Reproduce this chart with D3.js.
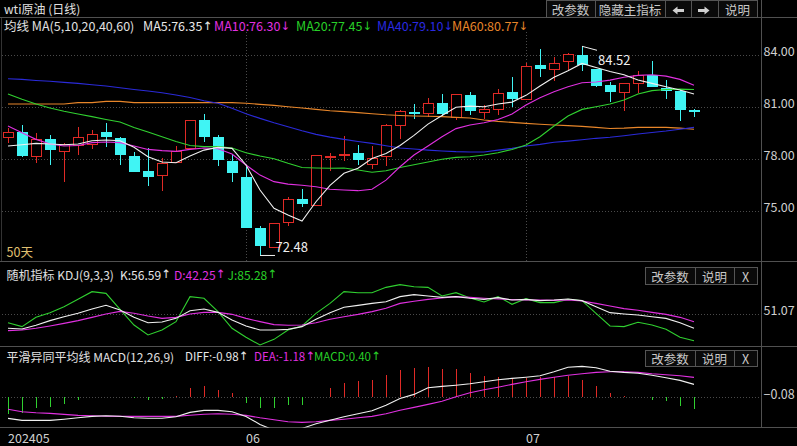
<!DOCTYPE html>
<html><head><meta charset="utf-8">
<script src="https://cdn.jsdelivr.net/npm/d3@7"></script>
<style>
html,body{margin:0;padding:0;background:#000;overflow:hidden}
svg{display:block}
text{font-family:"Noto Sans CJK SC","Microsoft YaHei",sans-serif;font-size:12px}
tspan.arr{font-family:"DejaVu Sans",sans-serif}
</style>
</head><body>
<svg id="c" width="797" height="446"></svg>
<script>
// ---------- data ----------
const open  = [79.25,79.57,78.23,79.15,78.46,78.84,78.92,79.56,79.23,78.19,77.33,77.07,77.88,78.61,80.27,79.27,77.90,76.98,74.02,72.96,74.34,75.69,75.38,78.11,78.25,78.34,77.71,78.15,79.96,80.73,80.65,81.27,80.46,81.73,80.77,80.88,81.88,81.46,83.42,83.23,83.65,84.03,83.19,82.27,81.84,82.38,82.88,82.11,81.96,80.84];
const high  = [79.79,79.98,79.54,79.38,78.92,79.85,79.69,80.11,79.27,78.42,78.63,78.06,78.77,80.27,80.61,79.38,78.25,77.57,74.17,74.34,75.84,76.27,78.27,78.35,79.34,78.82,78.77,80.04,80.84,81.19,81.54,81.77,81.79,81.88,81.11,82.04,82.77,83.57,84.38,83.92,84.15,84.52,83.23,82.46,82.40,83.11,83.69,82.57,81.98,80.92];
const low   = [78.96,78.15,77.81,77.67,76.71,78.23,78.61,78.73,77.69,77.27,76.48,76.19,77.86,78.59,79.02,77.61,76.71,74.03,72.48,72.94,74.15,75.27,75.36,77.32,77.92,77.67,77.46,77.61,79.19,80.35,80.42,80.42,80.27,80.57,80.30,80.54,81.04,81.42,82.77,82.50,83.15,83.07,82.19,81.30,80.80,81.80,82.15,81.50,80.23,80.46];
const close = [79.55,78.19,79.19,78.50,78.88,79.31,79.48,79.25,78.27,77.29,77.00,77.77,78.50,80.25,79.31,77.92,77.23,74.05,72.96,74.32,75.69,75.38,78.25,78.19,78.29,77.92,78.06,79.96,80.77,80.69,81.23,80.65,81.77,80.80,80.92,81.81,81.50,83.38,83.19,83.57,84.07,83.46,82.23,81.84,82.38,82.84,82.19,81.96,80.84,80.77];

const ma5  = [78.77,78.84,78.92,78.88,78.84,78.88,79.07,79.11,79.07,78.69,78.15,77.84,77.80,78.19,78.53,78.69,78.63,77.67,76.23,75.17,74.78,74.44,75.55,76.50,77.19,77.48,78.05,78.34,78.80,79.38,80.03,80.53,81.00,81.07,81.03,81.19,81.30,81.69,82.23,82.73,83.11,83.53,83.30,83.07,82.88,82.57,82.38,82.19,82.00,81.77];
const ma10 = [79.92,79.53,79.15,78.88,78.77,78.80,78.96,79.00,78.96,78.77,78.57,78.50,78.46,78.57,78.65,78.61,78.30,77.67,77.09,76.71,76.57,76.50,76.42,76.27,76.23,76.19,76.27,76.80,77.57,78.25,78.77,79.30,79.77,79.98,80.11,80.30,80.61,81.13,81.55,81.90,82.19,82.42,82.46,82.57,82.73,82.84,82.88,82.80,82.61,82.27];
const ma20 = [81.77,81.46,81.19,80.96,80.77,80.61,80.46,80.30,80.15,79.84,79.57,79.30,79.03,78.80,78.73,78.73,78.65,78.38,78.19,78.03,77.77,77.53,77.50,77.48,77.50,77.38,77.25,77.34,77.53,77.69,77.84,78.00,78.11,78.15,78.25,78.38,78.57,78.82,79.30,79.92,80.50,80.88,81.03,81.19,81.42,81.77,81.96,82.03,82.05,82.03];
const ma40 = [82.65,82.61,82.55,82.50,82.44,82.38,82.30,82.23,82.13,82.03,81.94,81.84,81.71,81.57,81.38,81.23,80.94,80.63,80.36,80.11,79.88,79.65,79.44,79.28,79.15,79.03,78.92,78.78,78.65,78.59,78.53,78.48,78.44,78.42,78.42,78.53,78.63,78.77,78.86,78.98,79.05,79.13,79.21,79.27,79.36,79.46,79.55,79.63,79.73,79.84];
const ma60 = [81.19,81.19,81.19,81.19,81.19,81.27,81.27,81.34,81.34,81.27,81.27,81.27,81.27,81.27,81.27,81.27,81.27,81.23,81.17,81.11,81.03,80.96,80.88,80.80,80.75,80.69,80.63,80.57,80.53,80.50,80.48,80.46,80.42,80.38,80.27,80.19,80.13,80.07,80.02,79.98,79.94,79.90,79.84,79.78,79.80,79.84,79.84,79.84,79.80,79.73];

const kdjK = [27.8,26.7,32.8,40.6,47.2,52.8,60.0,66.1,58.3,46.1,37.2,38.3,44.4,57.2,60.0,54.4,41.7,31.7,25.0,25.0,26.1,30.6,42.8,53.9,62.8,66.1,69.4,72.2,80.6,83.9,81.7,79.4,80.6,77.8,76.1,78.9,75.0,76.1,73.9,75.0,76.7,73.9,63.9,53.9,51.7,50.0,47.2,44.4,37.2,27.8];
const kdjD = [23.9,25.0,27.8,31.7,36.1,40.6,46.1,51.7,56.1,52.8,48.3,44.4,46.1,51.7,54.4,54.4,51.1,44.4,38.9,33.9,32.8,33.3,37.2,42.8,47.2,51.1,55.6,61.1,69.4,72.8,76.1,78.3,80.6,79.4,77.8,76.7,75.6,75.0,75.0,74.4,75.0,73.3,69.4,65.0,60.6,57.8,54.4,51.1,46.1,38.9];
const kdjJ = [37.2,30.6,46.1,53.9,63.9,76.1,88.9,86.1,59.4,33.3,16.7,25.0,38.9,80.6,77.8,55.6,27.8,12.8,0.0,9.4,25.0,31.7,52.8,69.4,88.9,87.2,87.2,96.1,100.6,97.2,96.1,81.7,87.2,78.3,71.7,80.6,67.8,77.2,70.6,70.6,76.1,73.9,52.8,31.7,30.6,37.8,33.3,26.1,12.8,7.2];

const diff = [-1.08,-1.18,-1.18,-1.18,-1.12,-1.05,-0.98,-0.95,-0.97,-1.05,-1.07,-1.07,-1.00,-0.78,-0.68,-0.68,-0.75,-0.98,-1.38,-1.67,-1.75,-1.58,-1.35,-1.17,-1.00,-0.85,-0.70,-0.42,-0.08,0.12,0.45,0.52,0.58,0.65,0.75,0.85,0.92,0.98,1.05,1.25,1.48,1.52,1.45,1.28,1.22,1.18,1.08,0.95,0.82,0.62];
const dea  = [-0.62,-0.75,-0.80,-0.83,-0.88,-0.93,-0.95,-0.97,-0.98,-0.98,-0.98,-0.98,-0.98,-0.92,-0.87,-0.85,-0.87,-0.93,-1.05,-1.15,-1.25,-1.28,-1.25,-1.18,-1.12,-1.05,-0.98,-0.85,-0.67,-0.53,-0.38,-0.22,0.00,0.20,0.35,0.48,0.62,0.75,0.87,0.98,1.08,1.15,1.22,1.25,1.25,1.22,1.15,1.10,1.05,0.97];
const macd = [-0.88,-0.83,-0.58,-0.52,-0.35,-0.15,-0.03,-0.02,-0.02,-0.08,-0.15,-0.12,0.03,0.42,0.52,0.35,0.20,-0.30,-0.58,-0.58,-0.42,-0.42,-0.03,0.45,0.68,0.78,0.85,1.08,1.33,1.45,1.48,1.38,1.38,1.18,1.05,0.98,0.92,0.92,0.98,0.98,1.02,0.82,0.52,0.18,0.04,-0.02,-0.15,-0.22,-0.45,-0.62];

const priceTicks = [75, 78, 81, 84];
const kdjTicks = [51.07];
const macdTicks = [-0.08];
const dateLabels = ["202405", "06", "07"];
const dateIdx = [0, 17, 37];
const maNames = ["MA5", "MA10", "MA20", "MA40", "MA60"];
const maLegendVals = ["76.35", "76.30", "77.45", "79.10", "80.77"];
const maLegendDir = ["↑", "↓", "↓", "↓", "↓"];
const highLabel = "84.52", lowLabel = "72.48";

// ---------- styles ----------
const C = {red:"#e02a26", cyan:"#40f4f4", white:"#f0f0f0", mag:"#e030e0", green:"#30d030", blue:"#2a2ad8", orange:"#e8862a",
           grid:"#4a4a4a", border:"#505050", text:"#d0d0d0"};
const maColors = [C.white, C.mag, C.green, C.blue, C.orange];
const maTextColors = ["#e8e8e8", "#e030e0", "#28d028", "#2a2ae0", "#e8862a"];

const svg = d3.select("#c");
const W = 797, RX = 761.5, LX = 2;
const idx = d3.range(open.length);
const x = d3.scaleLinear().domain([0, 49]).range([8, 694]);
const yP = d3.scaleLinear().domain([75, 84]).range([211.3, 55.3]);
const yK = d3.scaleLinear().domain([0, 100]).range([345, 285]);
const yM = d3.scaleLinear().domain([0, 1]).range([396.8, 376.8]);

const defs = svg.append("defs");
function clip(id, y0, y1){ defs.append("clipPath").attr("id", id).append("rect").attr("x", LX).attr("y", y0).attr("width", RX-LX).attr("height", y1-y0); }
clip("cMain", 30, 261); clip("cKdj", 262, 346); clip("cMacd", 347, 427.5);

// ---------- frames ----------
const frame = svg.append("g").attr("shape-rendering", "crispEdges");
[17.5, 261.5, 346.5, 427.5].forEach(y => frame.append("line").attr("x1", 0).attr("x2", W).attr("y1", y).attr("y2", y).attr("stroke", C.border));
frame.append("line").attr("x1", RX).attr("x2", RX).attr("y1", 0).attr("y2", 428).attr("stroke", C.border);
frame.append("line").attr("x1", 1.5).attr("x2", 1.5).attr("y1", 18).attr("y2", 261).attr("stroke", "#333");

// grids
const grid = svg.append("g").attr("shape-rendering", "crispEdges").attr("stroke", C.grid).attr("stroke-dasharray", "1,2");
grid.selectAll(".hg").data(priceTicks).join("line").attr("x1", LX).attr("x2", RX)
  .attr("y1", d => Math.round(yP(d)) + 0.5).attr("y2", d => Math.round(yP(d)) + 0.5);
grid.selectAll(".vg").data(dateIdx.slice(1)).join("line").attr("y1", 32).attr("y2", 261)
  .attr("x1", d => Math.round(x(d)) + 0.5).attr("x2", d => Math.round(x(d)) + 0.5);
grid.append("g").selectAll("line").data(kdjTicks).join("line").attr("x1", LX).attr("x2", RX)
  .attr("y1", d => Math.round(yK(d)) + 0.5).attr("y2", d => Math.round(yK(d)) + 0.5);
grid.append("g").selectAll("line").data([0]).join("line").attr("x1", LX).attr("x2", RX)
  .attr("y1", d => Math.round(yM(d)) + 0.5).attr("y2", d => Math.round(yM(d)) + 0.5);

// axes labels (right)
function rightAxis(scale, ticks, fmt){
  const g = svg.append("g").attr("transform", `translate(${RX},0)`)
    .call(d3.axisRight(scale).tickValues(ticks).tickFormat(fmt).tickSize(0).tickPadding(2));
  g.select(".domain").remove();
  g.selectAll("text").attr("fill", C.text).attr("dy", "0").style("font-size", "12.5px")
    .style("font-family", "'Noto Sans CJK SC',sans-serif");
}
rightAxis(yP, priceTicks, d3.format(".2f"));
rightAxis(yK, kdjTicks, d3.format(".2f"));
rightAxis(yM, macdTicks, d3.format(".2f"));

// date labels
svg.append("g").selectAll("text").data(dateIdx).join("text")
  .attr("x", d => x(d)).attr("y", 437.5).attr("dominant-baseline", "central")
  .attr("fill", C.text).style("font-size", "12.5px").text((d, i) => dateLabels[i]);

// ---------- candles ----------
const cg = svg.append("g").attr("clip-path", "url(#cMain)").attr("shape-rendering", "crispEdges");
idx.forEach(i => {
  const cx = Math.round(x(i)) + 0.5;
  const up = close[i] >= open[i];
  const yo = yP(open[i]), yc = yP(close[i]), yh = yP(high[i]), yl = yP(low[i]);
  const top = Math.min(yo, yc), bot = Math.max(yo, yc);
  const col = up ? C.red : C.cyan;
  if (up) {
    cg.append("line").attr("x1", cx).attr("x2", cx).attr("y1", yh).attr("y2", top).attr("stroke", col);
    cg.append("line").attr("x1", cx).attr("x2", cx).attr("y1", bot).attr("y2", yl).attr("stroke", col);
    cg.append("rect").attr("x", cx - 5).attr("y", Math.round(top) + 0.5).attr("width", 10)
      .attr("height", Math.max(1, Math.round(bot - top))).attr("fill", "#000").attr("stroke", col);
  } else {
    cg.append("line").attr("x1", cx).attr("x2", cx).attr("y1", yh).attr("y2", yl).attr("stroke", col);
    cg.append("rect").attr("x", cx - 5.5).attr("y", Math.round(top)).attr("width", 11)
      .attr("height", Math.max(1.5, Math.round(bot - top))).attr("fill", col);
  }
});

// ---------- MA lines ----------
const lg = svg.append("g").attr("clip-path", "url(#cMain)").attr("fill", "none").attr("stroke-width", 1.1);
const maSeries = [ma5, ma10, ma20, ma40, ma60];
[4, 3, 2, 1, 0].forEach(k => {
  lg.append("path").datum(maSeries[k]).attr("stroke", maColors[k])
    .attr("d", d3.line().x((d, i) => x(i)).y(d => yP(d)));
});

// high / low markers
const hiI = high.indexOf(d3.max(high)), loI = low.indexOf(d3.min(low));
const mk = svg.append("g").attr("stroke", C.white).attr("fill", "none");
mk.append("line").attr("x1", x(hiI)).attr("y1", yP(high[hiI])).attr("x2", x(hiI) + 15).attr("y2", yP(high[hiI]) + 4);
mk.append("line").attr("x1", x(loI)).attr("y1", yP(low[loI]) + 0.5).attr("x2", x(loI) + 15).attr("y2", yP(low[loI]) + 0.5);
svg.append("text").attr("x", x(hiI) + 16).attr("y", yP(high[hiI]) + 13.5).attr("dominant-baseline", "central")
  .attr("fill", C.white).style("font-size", "13px").text(highLabel);
svg.append("text").attr("x", x(loI) + 15.5).attr("y", yP(low[loI]) - 8).attr("dominant-baseline", "central")
  .attr("fill", C.white).style("font-size", "13px").text(lowLabel);

// ---------- KDJ ----------
const kg = svg.append("g").attr("clip-path", "url(#cKdj)").attr("fill", "none").attr("stroke-width", 1.1);
[[kdjJ, C.green], [kdjD, C.mag], [kdjK, C.white]].forEach(([arr, col]) => {
  kg.append("path").datum(arr).attr("stroke", col).attr("d", d3.line().x((d, i) => x(i)).y(d => yK(d)));
});

// ---------- MACD ----------
const mg = svg.append("g").attr("clip-path", "url(#cMacd)");
mg.append("g").attr("shape-rendering", "crispEdges").selectAll("line").data(macd).join("line")
  .attr("x1", (d, i) => Math.round(x(i)) + 0.5).attr("x2", (d, i) => Math.round(x(i)) + 0.5)
  .attr("y1", yM(0)).attr("y2", d => yM(d)).attr("stroke", d => d >= 0 ? C.red : C.green).attr("stroke-width", 1.3);
[[dea, C.mag], [diff, C.white]].forEach(([arr, col]) => {
  mg.append("path").datum(arr).attr("fill", "none").attr("stroke", col).attr("stroke-width", 1.1)
    .attr("d", d3.line().x((d, i) => x(i)).y(d => yM(d)));
});

// ---------- headers ----------
function txt(xp, yp, s, col, size){
  return svg.append("text").attr("x", xp).attr("y", yp).attr("dominant-baseline", "central")
    .attr("fill", col).style("font-size", (size || 12) + "px").text(s);
}
function legend(xp, yp, s, arrow, col, size){
  const t = txt(xp, yp, s, col, size);
  t.append("tspan").attr("class", "arr").style("font-size", "11.5px").attr("dx", 0.5).text(arrow);
  return t;
}
txt(4, 8.5, "wti原油 (日线)", "#e0e0e0", 12);
txt(4, 25.5, "均线 MA(5,10,20,40,60)", "#e0e0e0", 12.5);
const maX = [143, 214, 296, 377, 452];
maNames.forEach((n, k) => legend(maX[k], 25.5, `${n}:${maLegendVals[k]}`, maLegendDir[k], maTextColors[k], 12.5));

txt(6.5, 274, "随机指标 KDJ(9,3,3)", "#e0e0e0");
legend(120, 274, "K:56.59", "↑", "#e8e8e8");
legend(174, 274, "D:42.25", "↑", "#e030e0");
legend(227.5, 274, "J:85.28", "↑", "#28d028");

txt(6.5, 356, "平滑异同平均线 MACD(12,26,9)", "#e0e0e0");
legend(185, 356, "DIFF:-0.98", "↑", "#e8e8e8", 11.5);
legend(254, 356, "DEA:-1.18", "↑", "#e030e0", 11.5);
legend(314, 356, "MACD:0.40", "↑", "#28d028", 11.5);

txt(6.5, 251.5, "50天", "#e0c070", 12.5);

// ---------- buttons ----------
function button(x0, x1, y0, y1, label){
  svg.append("rect").attr("x", x0 + 0.5).attr("y", y0 + 0.5).attr("width", x1 - x0).attr("height", y1 - y0)
    .attr("fill", "#0a0a0a").attr("stroke", "#555").attr("shape-rendering", "crispEdges");
  if (label) txt((x0 + x1) / 2, (y0 + y1) / 2 + 0.5, label, "#c8c8c8", 12.5).attr("text-anchor", "middle");
}
button(546, 595, 0, 17, "改参数");
button(595, 665, 0, 17, "隐藏主指标");
button(665, 691, 0, 17, "");
button(691, 718, 0, 17, "");
button(718, 757, 0, 17, "说明");
// arrow icons
svg.append("path").attr("fill", "#d0d0d0").attr("d", "M672.5,10.5 L677.5,6.5 L677.5,9 L684,9 L684,12 L677.5,12 L677.5,14.5 Z");
svg.append("path").attr("fill", "#d0d0d0").attr("d", "M709.5,10.5 L704.5,6.5 L704.5,9 L698,9 L698,12 L704.5,12 L704.5,14.5 Z");

button(645, 695, 267, 284, "改参数");
button(695, 734, 267, 284, "说明");
button(734, 757, 267, 284, "X");
button(645, 695, 350, 366, "改参数");
button(695, 734, 350, 366, "说明");
button(734, 757, 350, 366, "X");
</script>
</body></html>
